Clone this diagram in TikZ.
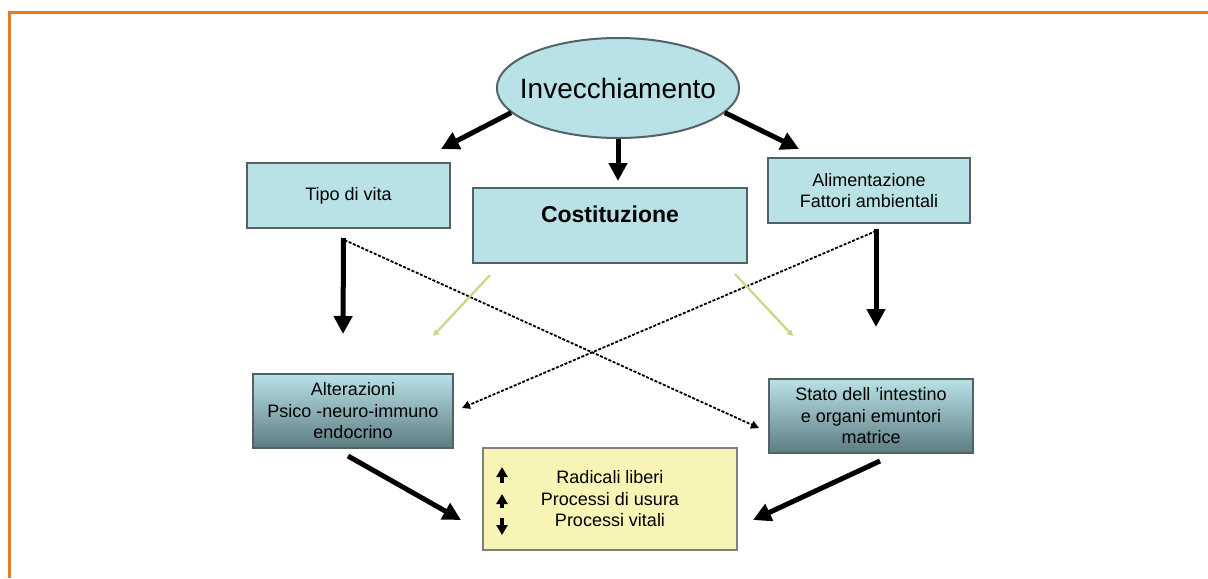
\documentclass[tikz,border=0pt]{standalone}
\usepackage{fontspec}
\setmainfont{Liberation Sans}
\usetikzlibrary{arrows.meta,shapes.geometric,positioning,calc}

\definecolor{frameorange}{RGB}{232,122,40}
\definecolor{boxcyan}{RGB}{185,226,230}
\definecolor{boxdark}{RGB}{92,124,130}
\definecolor{boxline}{RGB}{82,98,104}
\definecolor{paleyellow}{RGB}{248,244,182}
\definecolor{limegreen}{RGB}{196,218,130}

\begin{document}
\begin{tikzpicture}[x=0.5pt,y=-0.5pt,
	box/.style={draw=boxline, line width=1pt, fill=boxcyan, inner sep=0pt, align=center, font=\fontsize{9}{10.75}\selectfont},
	darkbox/.style={box, top color=boxcyan, bottom color=boxdark},
	bigarrow/.style={line width=2.5pt, -{Triangle[length=9pt,width=9pt]}},
	crossarrow/.style={line width=0.9pt, dash pattern=on 1.5pt off 0.8pt, -{Triangle[length=4pt,width=4pt]}},
	greenline/.style={limegreen, line width=1.1pt, -{Triangle[length=3pt,width=3pt]}},
	updown/.style={line width=1.8pt, -{Triangle[length=5pt,width=5.5pt]}}]
	\useasboundingbox (0,0) rectangle (1208,578);
	\fill[white] (0,0) rectangle (1208,578);
	\draw[frameorange, line width=1.5pt] (9.5,578) -- (9.5,12.5) -- (1208,12.5);

	\node[ellipse, draw=boxline, line width=1pt, fill=boxcyan, minimum width=121pt, minimum height=50pt, inner xsep=-6.2pt, inner ysep=0pt, font=\fontsize{14}{16}\selectfont] (inv) at (618,88) {Invecchiamento};

	\node[box, minimum width=101.5pt, minimum height=32.5pt] (tipo) at (348.5,195.5) {Tipo di vita};
	\node[box, minimum width=137pt, minimum height=37.5pt, font=\fontsize{11.5}{13}\selectfont\bfseries, text height=8pt, text depth=11pt] (cost) at (610,225.5) {Costituzione};
	\node[box, minimum width=101pt, minimum height=32.5pt] (alim) at (869,190.5) {Alimentazione\\Fattori ambientali};

	\node[darkbox, minimum width=100pt, minimum height=37pt] (alt) at (353,411) {Alterazioni\\Psico -neuro-immuno\\endocrino};
	\node[darkbox, minimum width=102pt, minimum height=37pt] (stato) at (871,416) {Stato dell ’intestino\\e organi emuntori\\matrice};

	\node[box, draw=gray, fill=paleyellow, minimum width=127pt, minimum height=51pt] (res) at (610,499) {Radicali liberi\\Processi di usura\\Processi vitali};

	\draw[bigarrow] (inv.193) -- ($(tipo.north east)+(-10,-13)$);
	\draw[bigarrow] (inv.south) -- ($(inv.south |- cost.north)+(0,-6)$);
	\draw[bigarrow] (inv.-13) -- ($(alim.north west)+(32,-8)$);

	\draw[bigarrow] ($(tipo.south)+(-5,9)$) -- ($(alt.north)+(-10,-39)$);
	\draw[bigarrow] ($(alim.south)+(7,5)$) -- ($(stato.north)+(5,-51)$);

	\draw[crossarrow] ($(tipo.south)+(-4,11)$) -- ($(stato.west)+(-9,12)$);
	\draw[crossarrow] ($(alim.south)+(7,7)$) -- ($(alt.east)+(8,-3)$);

	\draw[greenline] ($(cost.south)+(-120,11)$) -- ($(alt.north)+(80,-37)$);
	\draw[greenline] ($(cost.south)+(125,10)$) -- ($(stato.north)+(-78,-42)$);

	\draw[bigarrow] ($(alt.south)+(-5,7)$) -- ($(res.west)+(-21,21)$);
	\draw[bigarrow] ($(stato.south)+(9,7)$) -- ($(res.east)+(15,21)$);

	\draw[updown] ($(res.west)+(20,-16)$) -- ($(res.west)+(20,-32)$);
	\draw[updown] ($(res.west)+(20,9)$) -- ($(res.west)+(20,-5)$);
	\draw[updown] ($(res.west)+(20,19)$) -- ($(res.west)+(20,36)$);
\end{tikzpicture}
\end{document}
